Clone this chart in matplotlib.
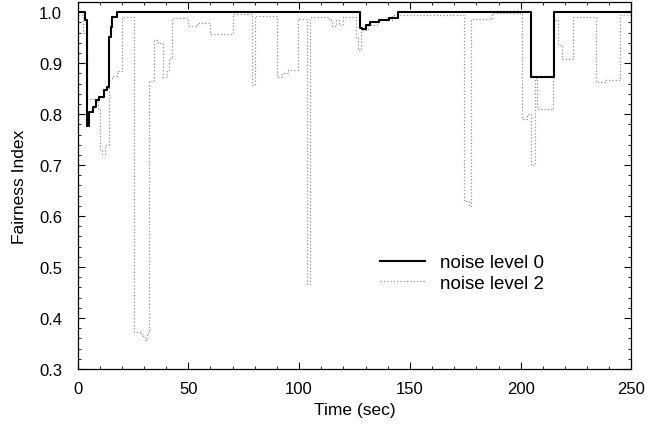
import matplotlib
matplotlib.use("Agg")
import matplotlib.pyplot as plt
from matplotlib.ticker import MultipleLocator, FormatStrFormatter

# noise level 0 (solid), step changes: time (sec) -> fairness index
t_noise0 = [0, 3.3, 4.1, 5.3, 7.1, 8.2, 9.7, 11.8, 13.3, 14.1, 14.9, 15.7, 17.6,
            127.4, 128.5, 130.4, 132.2, 135.9, 140.4, 144.8, 204.7, 215.0, 250]
f_noise0 = [1.0, 0.984, 0.776, 0.804, 0.814, 0.827, 0.834, 0.848, 0.853, 0.951, 0.971, 0.99, 1.0,
            0.968, 0.967, 0.975, 0.98, 0.985, 0.988, 1.0, 0.872, 1.0, 1.0]

# noise level 2 (dotted)
t_noise2 = [0, 2.5, 4.2, 9.2, 10.0, 11.0, 12.5, 14.0, 16.0, 18.0, 20.0,
            25.7, 28.0, 29.5, 30.5, 31.5, 32.2, 34.3, 36.5, 38.5, 40.3, 41.2, 42.5,
            50.0, 54.0, 59.8, 70.3, 78.6, 80.2, 90.0, 92.5, 95.0, 99.6, 103.6, 105.0,
            113.5, 115.0, 116.5, 118.0, 120.0, 125.5, 126.5, 127.8, 131.0, 135.0, 142.0,
            174.5, 176.5, 177.5, 187.0, 200.8, 203.0, 204.5, 206.5, 207.5, 214.8,
            216.8, 218.5, 223.6, 233.8, 238.0, 244.6, 250]
f_noise2 = [0.995, 0.96, 0.83, 0.81, 0.73, 0.722, 0.74, 0.87, 0.875, 0.885, 0.99,
            0.372, 0.368, 0.362, 0.356, 0.37, 0.865, 0.945, 0.94, 0.872, 0.886, 0.91, 0.988,
            0.972, 0.978, 0.958, 0.997, 0.857, 0.992, 0.872, 0.88, 0.886, 0.987, 0.467, 0.99,
            0.985, 0.972, 0.985, 0.975, 0.99, 0.95, 0.925, 0.965, 0.975, 0.985, 0.995,
            0.63, 0.62, 0.987, 0.998, 0.79, 0.80, 0.70, 0.87, 0.81, 0.985,
            0.935, 0.909, 0.99, 0.863, 0.866, 0.994, 0.994]

plt.rcParams['font.family'] = ['Liberation Sans', 'DejaVu Sans']

fig = plt.figure(figsize=(6.48, 4.27), dpi=100)
ax = fig.add_axes([0.1196, 0.1335, 0.8549, 0.8595])

ax.step(t_noise2, f_noise2, where='post', color='#909090', linestyle=':', linewidth=0.9,
        label='noise level 2', zorder=2)
ax.step(t_noise0, f_noise0, where='post', color='black', linewidth=1.5,
        label='noise level 0', zorder=3)

ax.set_xlim(0, 250)
ax.set_ylim(0.3, 1.02)
ax.xaxis.set_major_locator(MultipleLocator(50))
ax.xaxis.set_minor_locator(MultipleLocator(10))
ax.yaxis.set_major_locator(MultipleLocator(0.1))
ax.yaxis.set_minor_locator(MultipleLocator(0.02))
ax.yaxis.set_major_formatter(FormatStrFormatter('%.1f'))

ax.tick_params(which='both', direction='in', top=True, right=True, labelsize=12)
ax.tick_params(which='major', length=5, width=0.8)
ax.tick_params(which='minor', length=2.5, width=0.6)
ax.tick_params(axis='y', which='major', pad=11)
ax.tick_params(axis='x', which='major', pad=9)
for s in ax.spines.values():
    s.set_linewidth(0.9)

ax.set_xlabel('Time (sec)', fontsize=12.5, labelpad=4)
ax.set_ylabel('Fairness Index', fontsize=12.5, labelpad=9)

handles, labels = ax.get_legend_handles_labels()
ax.legend(handles[::-1], labels[::-1], loc='center left', bbox_to_anchor=(0.532, 0.262),
          frameon=False, fontsize=13.5, handlelength=2.4, handletextpad=0.8,
          labelspacing=0.18, borderaxespad=0)

fig.savefig('out.png', dpi=100)
